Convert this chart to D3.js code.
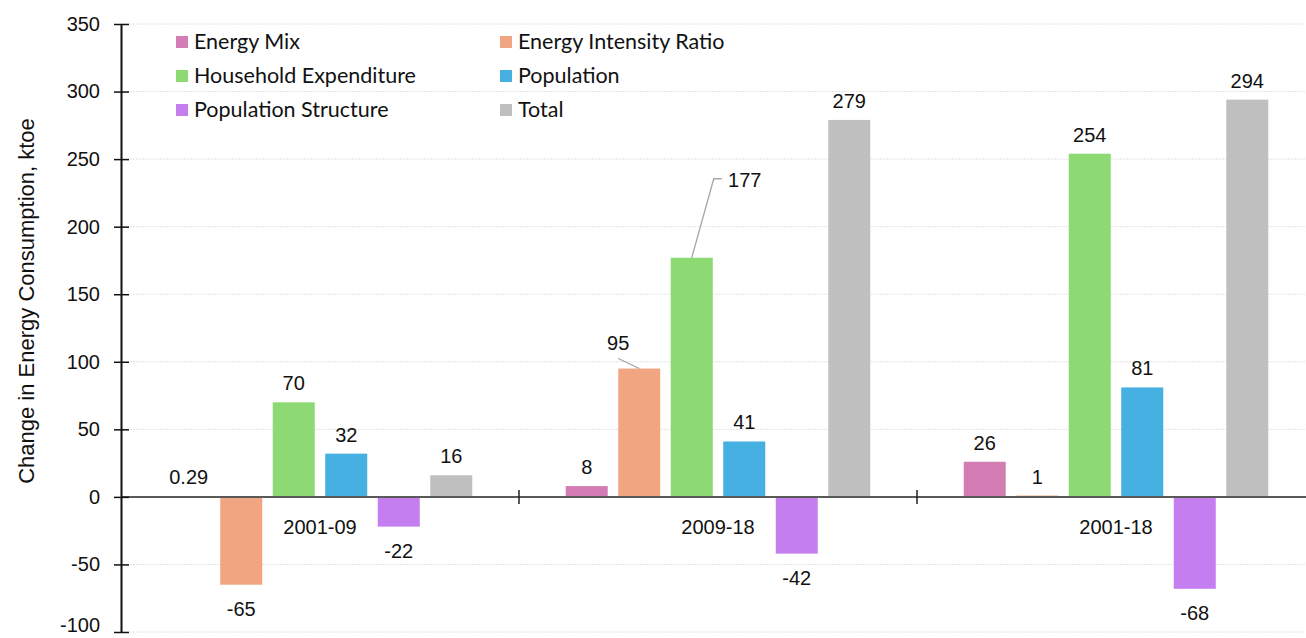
<!DOCTYPE html>
<html><head><meta charset="utf-8">
<script src="https://cdn.jsdelivr.net/npm/d3@7"></script>
<style>body{margin:0;background:#fff}svg{display:block}</style>
</head><body>
<script>
const categories = ["2001-09", "2009-18", "2001-18"];
const seriesNames = ["Energy Mix", "Energy Intensity Ratio", "Household Expenditure", "Population", "Population Structure", "Total"];
const seriesColors = ["#d47db4", "#f1a681", "#8dd973", "#45b0e1", "#c57ef0", "#bfbfbf"];
const energyMix = [0.29, 8, 26];
const energyIntensity = [-65, 95, 1];
const householdExp = [70, 177, 254];
const population = [32, 41, 81];
const popStructure = [-22, -42, -68];
const total = [16, 279, 294];
const yTicks = [-100, -50, 0, 50, 100, 150, 200, 250, 300, 350];
const allValues = [energyMix, energyIntensity, householdExp, population, popStructure, total];

const W = 1306, H = 638;
const svg = d3.select("body").append("svg").attr("width", W).attr("height", H);
const left = 121, right = 1315;
const y = d3.scaleLinear().domain([-100, 350]).range([632, 24]);
const x0 = d3.scaleBand().domain(categories).range([left, right]).padding(0);
const x1 = d3.scaleBand().domain(seriesNames).range([0, x0.bandwidth()]).paddingInner(0.2).paddingOuter(0.89);

const axisFont = "'Liberation Sans', Arial, sans-serif";
const fs = 20;

// gridlines
svg.append("g").selectAll("line").data(yTicks.filter(d => d !== 0)).join("line")
  .attr("x1", left).attr("x2", W).attr("y1", d => y(d)).attr("y2", d => y(d))
  .attr("stroke", "#e2e2e2").attr("stroke-width", 1).attr("stroke-dasharray", "2,1");

// bars
const groups = svg.append("g").selectAll("g").data(categories).join("g")
  .attr("transform", d => `translate(${x0(d)},0)`);
groups.selectAll("rect").data((c, ci) => seriesNames.map((s, si) => ({s, si, v: allValues[si][ci]})))
  .join("rect")
  .attr("x", d => x1(d.s)).attr("width", x1.bandwidth())
  .attr("y", d => y(Math.max(0, d.v))).attr("height", d => Math.abs(y(d.v) - y(0)))
  .attr("fill", d => seriesColors[d.si]);

// zero line
svg.append("line").attr("x1", left).attr("x2", W).attr("y1", y(0)).attr("y2", y(0))
  .attr("stroke", "#595959").attr("stroke-width", 2);
// category separator ticks
svg.append("g").selectAll("line").data(categories.slice(1)).join("line")
  .attr("x1", d => x0(d)).attr("x2", d => x0(d)).attr("y1", y(0) - 7).attr("y2", y(0) + 7)
  .attr("stroke", "#222").attr("stroke-width", 1.5);

// y axis
const yAxis = d3.axisLeft(y).tickValues(yTicks).tickSize(0).tickPadding(21).tickFormat(d => String(d));
const ya = svg.append("g").attr("transform", `translate(${left},0)`).call(yAxis);
ya.attr("font-family", axisFont);
ya.select(".domain").attr("stroke", "#111").attr("stroke-width", 2);
ya.selectAll("text").attr("font-family", axisFont).attr("font-size", fs).attr("fill", "#111")
  .attr("dy", d => d === -100 ? "-0.05em" : "0.32em");
ya.selectAll(".tick").append("line").attr("x1", -7).attr("x2", 8).attr("stroke", "#111").attr("stroke-width", 1.5);

// category labels
svg.append("g").selectAll("text").data(categories).join("text")
  .attr("x", d => x0(d) + x0.bandwidth() / 2).attr("y", y(0) + 37)
  .attr("text-anchor", "middle").attr("font-family", axisFont).attr("font-size", fs).attr("fill", "#111")
  .text(d => d);

// value labels
const labelOffsets = {"1-1": {dx: -21, dy: -7}, "1-2": {dx: 53, dy: -59}};
const labels = [];
categories.forEach((c, ci) => seriesNames.forEach((s, si) => {
  const v = allValues[si][ci];
  const cx = x0(c) + x1(s) + x1.bandwidth() / 2;
  const ly = v >= 0 ? y(v) - 12 : y(v) + 31;
  labels.push({cx, ly, v, key: ci + "-" + si, top: y(v)});
}));
labels.forEach(d => {
  const o = labelOffsets[d.key] || {dx: 0, dy: 0};
  d.lx = d.cx + o.dx; d.ly2 = d.ly + o.dy;
});
// leader lines
const l95 = labels.find(d => d.key === "1-1");
svg.append("polyline").attr("points", `${l95.lx},${l95.ly2 + 9} ${l95.cx},${l95.top}`)
  .attr("fill", "none").attr("stroke", "#a6a6a6").attr("stroke-width", 1.3);
const l177 = labels.find(d => d.key === "1-2");
svg.append("polyline").attr("points", `${l177.lx - 23},${l177.ly2 - 8} ${l177.lx - 31},${l177.ly2 - 8} ${l177.cx},${l177.top}`)
  .attr("fill", "none").attr("stroke", "#a6a6a6").attr("stroke-width", 1.3);

svg.append("g").selectAll("text").data(labels).join("text")
  .attr("x", d => d.lx).attr("y", d => d.ly2)
  .attr("text-anchor", "middle").attr("font-family", axisFont).attr("font-size", fs).attr("fill", "#111")
  .text(d => d.v);

// y title
svg.append("text").attr("transform", `translate(34,${(y(350) + y(-100)) / 2 - 27}) rotate(-90)`)
  .attr("text-anchor", "middle").attr("font-family", axisFont).attr("font-size", 22).attr("fill", "#111")
  .text("Change in Energy Consumption, ktoe");

// legend
const legCols = [176, 500], legRows = [42, 76, 110];
const leg = svg.append("g").selectAll("g").data(seriesNames).join("g")
  .attr("transform", (d, i) => `translate(${legCols[i % 2]},${legRows[Math.floor(i / 2)]})`);
leg.append("rect").attr("x", 0).attr("y", -6).attr("width", 12).attr("height", 12).attr("fill", (d, i) => seriesColors[i]);
leg.append("text").attr("x", 18).attr("y", 7).attr("font-family", "Lato, 'Noto Sans', sans-serif")
  .attr("font-size", 21.5).attr("fill", "#111").text(d => d);
</script>
</body></html>
